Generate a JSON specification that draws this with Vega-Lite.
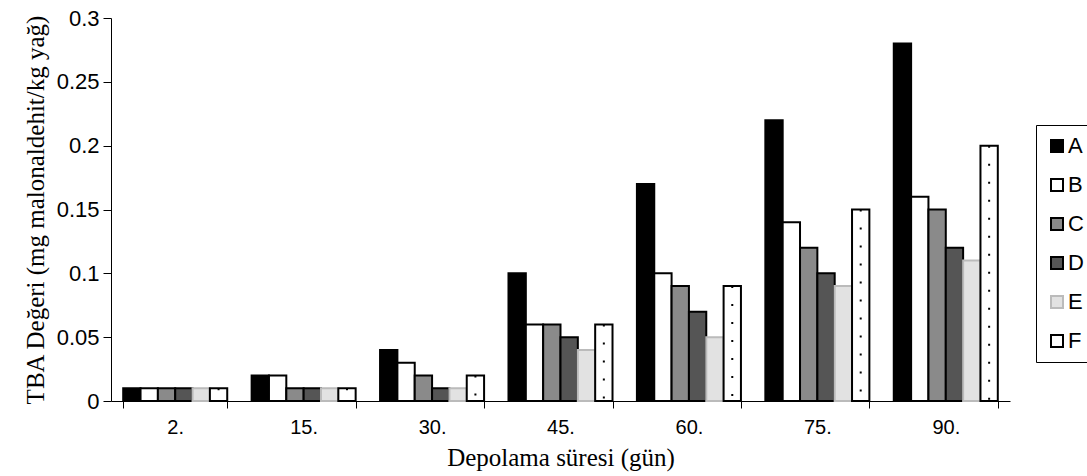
{
  "$schema": "https://vega.github.io/schema/vega-lite/v6.json",
  "autosize": {"type": "none"},
  "width": 899,
  "height": 383,
  "padding": {"left": 111, "top": 18, "right": 77, "bottom": 75},
  "background": "white",
  "config": {
    "view": {"stroke": null},
    "axis": {"grid": false, "domainColor": "black", "tickColor": "black", "labelColor": "black", "titleColor": "black", "domainWidth": 1, "tickWidth": 1}
  },
  "data": {
    "values": [
      {"day": "2.", "s": "A", "v": 0.01}, {"day": "2.", "s": "B", "v": 0.01}, {"day": "2.", "s": "C", "v": 0.01}, {"day": "2.", "s": "D", "v": 0.01}, {"day": "2.", "s": "E", "v": 0.01}, {"day": "2.", "s": "F", "v": 0.01},
      {"day": "15.", "s": "A", "v": 0.02}, {"day": "15.", "s": "B", "v": 0.02}, {"day": "15.", "s": "C", "v": 0.01}, {"day": "15.", "s": "D", "v": 0.01}, {"day": "15.", "s": "E", "v": 0.01}, {"day": "15.", "s": "F", "v": 0.01},
      {"day": "30.", "s": "A", "v": 0.04}, {"day": "30.", "s": "B", "v": 0.03}, {"day": "30.", "s": "C", "v": 0.02}, {"day": "30.", "s": "D", "v": 0.01}, {"day": "30.", "s": "E", "v": 0.01}, {"day": "30.", "s": "F", "v": 0.02},
      {"day": "45.", "s": "A", "v": 0.10}, {"day": "45.", "s": "B", "v": 0.06}, {"day": "45.", "s": "C", "v": 0.06}, {"day": "45.", "s": "D", "v": 0.05}, {"day": "45.", "s": "E", "v": 0.04}, {"day": "45.", "s": "F", "v": 0.06},
      {"day": "60.", "s": "A", "v": 0.17}, {"day": "60.", "s": "B", "v": 0.10}, {"day": "60.", "s": "C", "v": 0.09}, {"day": "60.", "s": "D", "v": 0.07}, {"day": "60.", "s": "E", "v": 0.05}, {"day": "60.", "s": "F", "v": 0.09},
      {"day": "75.", "s": "A", "v": 0.22}, {"day": "75.", "s": "B", "v": 0.14}, {"day": "75.", "s": "C", "v": 0.12}, {"day": "75.", "s": "D", "v": 0.10}, {"day": "75.", "s": "E", "v": 0.09}, {"day": "75.", "s": "F", "v": 0.15},
      {"day": "90.", "s": "A", "v": 0.28}, {"day": "90.", "s": "B", "v": 0.16}, {"day": "90.", "s": "C", "v": 0.15}, {"day": "90.", "s": "D", "v": 0.12}, {"day": "90.", "s": "E", "v": 0.11}, {"day": "90.", "s": "F", "v": 0.20}
    ]
  },
  "encoding": {
    "x": {
      "field": "day", "type": "nominal", "sort": null,
      "scale": {"paddingInner": 0.19, "paddingOuter": 0.095},
      "axis": {"labelAngle": 0, "tickBand": "extent", "tickSize": 7, "labelFont": "Liberation Sans", "labelFontSize": 20, "labelPadding": 9,
               "title": "Depolama süresi (gün)", "titleFont": "Liberation Serif", "titleFontSize": 25, "titleFontWeight": "normal", "titlePadding": 8}
    },
    "xOffset": {"field": "s", "type": "nominal", "scale": {"paddingInner": 0, "paddingOuter": 0}},
    "y": {
      "field": "v", "type": "quantitative",
      "scale": {"domain": [0, 0.3], "nice": false},
      "axis": {"values": [0, 0.05, 0.1, 0.15, 0.2, 0.25, 0.3], "format": ".2~f", "tickSize": 8, "labelFont": "Liberation Sans", "labelFontSize": 22, "labelPadding": 4,
               "title": "TBA Değeri (mg malonaldehit/kg yağ)", "titleFont": "Liberation Serif", "titleFontSize": 25, "titleFontWeight": "normal", "titlePadding": 8}
    }
  },
  "layer": [
    {
      "mark": {"type": "bar", "strokeWidth": 2, "strokeJoin": "miter"},
      "encoding": {
        "fill": {
          "field": "s", "type": "nominal",
          "scale": {"domain": ["A", "B", "C", "D", "E", "F"], "range": ["#000000", "#ffffff", "#8a8a8a", "#555555", "#e2e2e2", "#ffffff"]},
          "legend": {"title": null, "orient": "none", "legendX": 925, "legendY": 107, "symbolType": "square", "symbolSize": 144, "symbolStrokeWidth": 2,
                     "labelFont": "Liberation Sans", "labelFontSize": 22, "labelColor": "black", "rowPadding": 17, "strokeColor": "black", "fillColor": "white", "padding": 10, "labelOffset": 0}
        },
        "stroke": {
          "field": "s", "type": "nominal",
          "scale": {"domain": ["A", "B", "C", "D", "E", "F"], "range": ["#000000", "#000000", "#000000", "#000000", "#bbbbbb", "#000000"]}
        }
      }
    },
    {
      "transform": [{"filter": "datum.s == 'F'"}],
      "mark": {"type": "rule", "color": "black", "strokeWidth": 2, "strokeDash": [2, 16]},
      "encoding": {"y2": {"datum": 0}}
    }
  ]
}
